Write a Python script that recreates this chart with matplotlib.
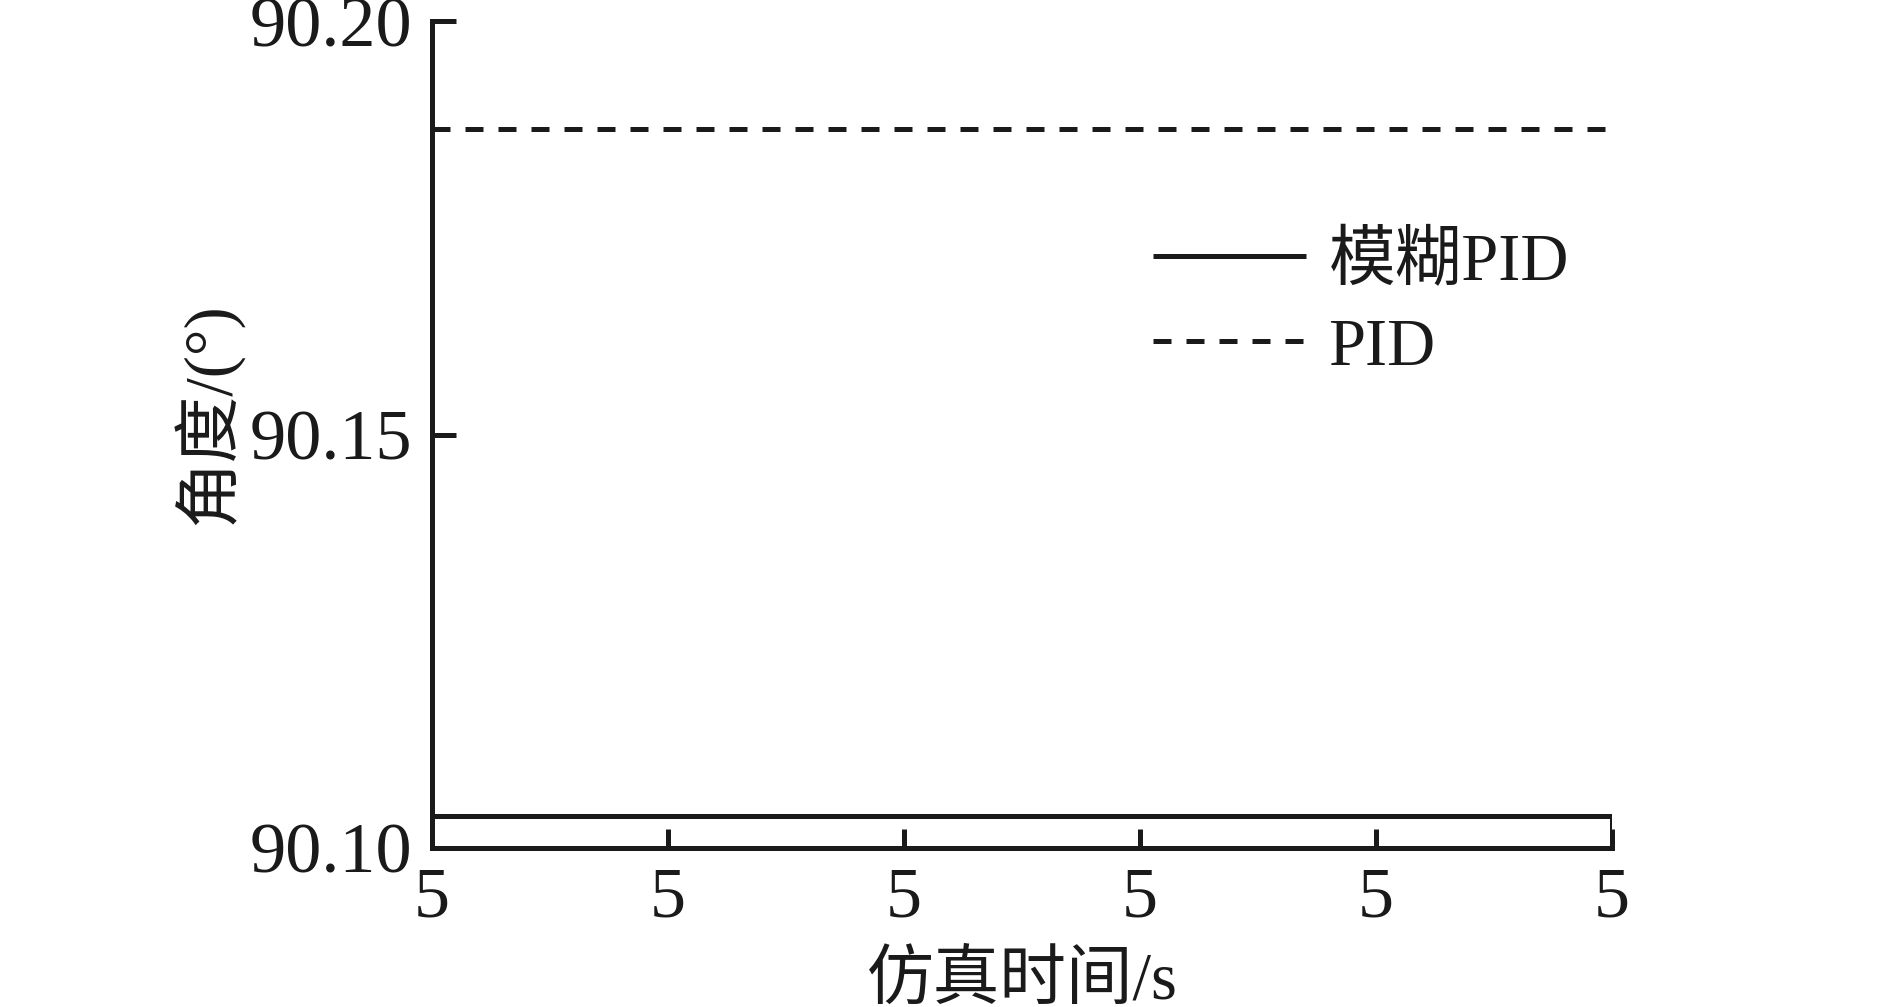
import numpy as np
import matplotlib
matplotlib.use('Agg')
import matplotlib.pyplot as plt
from matplotlib.ticker import FormatStrFormatter

plt.rcParams['font.family'] = ['Liberation Serif', 'Noto Sans CJK SC']
plt.rcParams['axes.unicode_minus'] = False

# simulation time (s) and steady angles (deg)
t = [5.0000, 5.0010, 5.0010]
fuzzy_pid = [90.1039, 90.1039, 90.1000]
t_pid = [5.0000, 5.0010]
pid = [90.1869, 90.1869]

x_ticks = [5.0000, 5.0002, 5.0004, 5.0006, 5.0008, 5.0010]
y_ticks = [90.10, 90.15, 90.20]

fig = plt.figure(figsize=(18.89, 10.07), dpi=100)
ax = fig.add_axes([0.2287, 0.1579, 0.6247, 0.8212])

lw = 3.6
ax.plot(t, fuzzy_pid, color='#1a1a1a', lw=lw, label='模糊PID', solid_capstyle='butt')
ax.plot(t_pid, pid, color='#1a1a1a', lw=lw, ls=(0, (3.6, 3.0)), label='PID')

ax.set_xlim(x_ticks[0], x_ticks[-1])
ax.set_ylim(90.10, 90.20)
ax.set_xticks(x_ticks)
ax.set_yticks(y_ticks)
ax.xaxis.set_major_formatter(FormatStrFormatter('%.0f'))
ax.yaxis.set_major_formatter(FormatStrFormatter('%.2f'))

for s in ['top', 'right']:
    ax.spines[s].set_visible(False)
for s in ['left', 'bottom']:
    ax.spines[s].set_linewidth(lw)
    ax.spines[s].set_color('#1a1a1a')

ax.tick_params(axis='both', direction='in', width=lw, color='#1a1a1a', labelsize=52, labelcolor='#1a1a1a')
ax.tick_params(axis='y', length=17, pad=14)
ax.tick_params(axis='x', length=14, pad=13)

ax.set_xlabel('仿真时间/s', fontsize=48, color='#1a1a1a')
ax.set_ylabel('角度/(°)', fontsize=48, color='#1a1a1a')
ax.xaxis.set_label_coords(0.5, -0.125)
ax.yaxis.set_label_coords(-0.16, 0.525)

leg = fig.legend(loc='center left', bbox_to_anchor=(0.6104, 0.697), frameon=False,
                 fontsize=48, handlelength=2.3, handletextpad=0.33, labelspacing=0.36,
                 borderpad=0, borderaxespad=0)
for txt in leg.get_texts():
    txt.set_color('#1a1a1a')

fig.savefig('out.png', dpi=100)
